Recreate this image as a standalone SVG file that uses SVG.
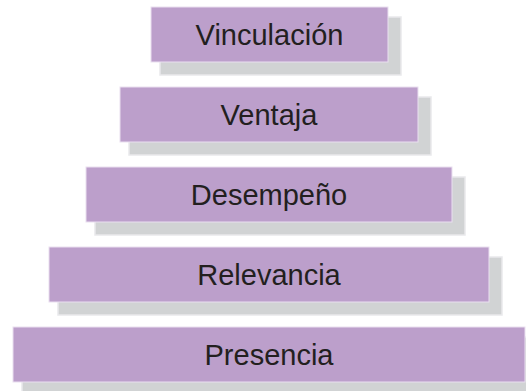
<svg xmlns="http://www.w3.org/2000/svg" width="526" height="391" viewBox="0 0 526 391">
<style>
.shadow{fill:#d1d3d4;stroke:#e9e9eb;stroke-width:1.5}
.box{fill:#bc9fcb;stroke:#eadff0;stroke-width:1}
.label{font-family:"Liberation Sans",Arial,sans-serif;font-size:29px;fill:#231f20;text-anchor:middle}
</style>
<rect width="526" height="391" fill="#ffffff"/>
<g id="vinculacion">
<rect class="shadow" x="160" y="17" width="241" height="58"/>
<rect class="box" x="151" y="7" width="237" height="55"/>
<text class="label" x="269.5" y="45">Vinculación</text>
</g>
<g id="ventaja">
<rect class="shadow" x="129" y="97" width="302" height="58"/>
<rect class="box" x="120" y="87" width="298" height="55"/>
<text class="label" x="269" y="125">Ventaja</text>
</g>
<g id="desempeno">
<rect class="shadow" x="95" y="177" width="370" height="58"/>
<rect class="box" x="86" y="167" width="366" height="55"/>
<text class="label" x="269" y="205">Desempeño</text>
</g>
<g id="relevancia">
<rect class="shadow" x="58" y="257" width="444" height="58"/>
<rect class="box" x="49" y="247" width="440" height="55"/>
<text class="label" x="269" y="285">Relevancia</text>
</g>
<g id="presencia">
<rect class="shadow" x="22" y="337" width="516" height="58"/>
<rect class="box" x="13" y="327" width="512" height="55"/>
<text class="label" x="269" y="365">Presencia</text>
</g>
</svg>
